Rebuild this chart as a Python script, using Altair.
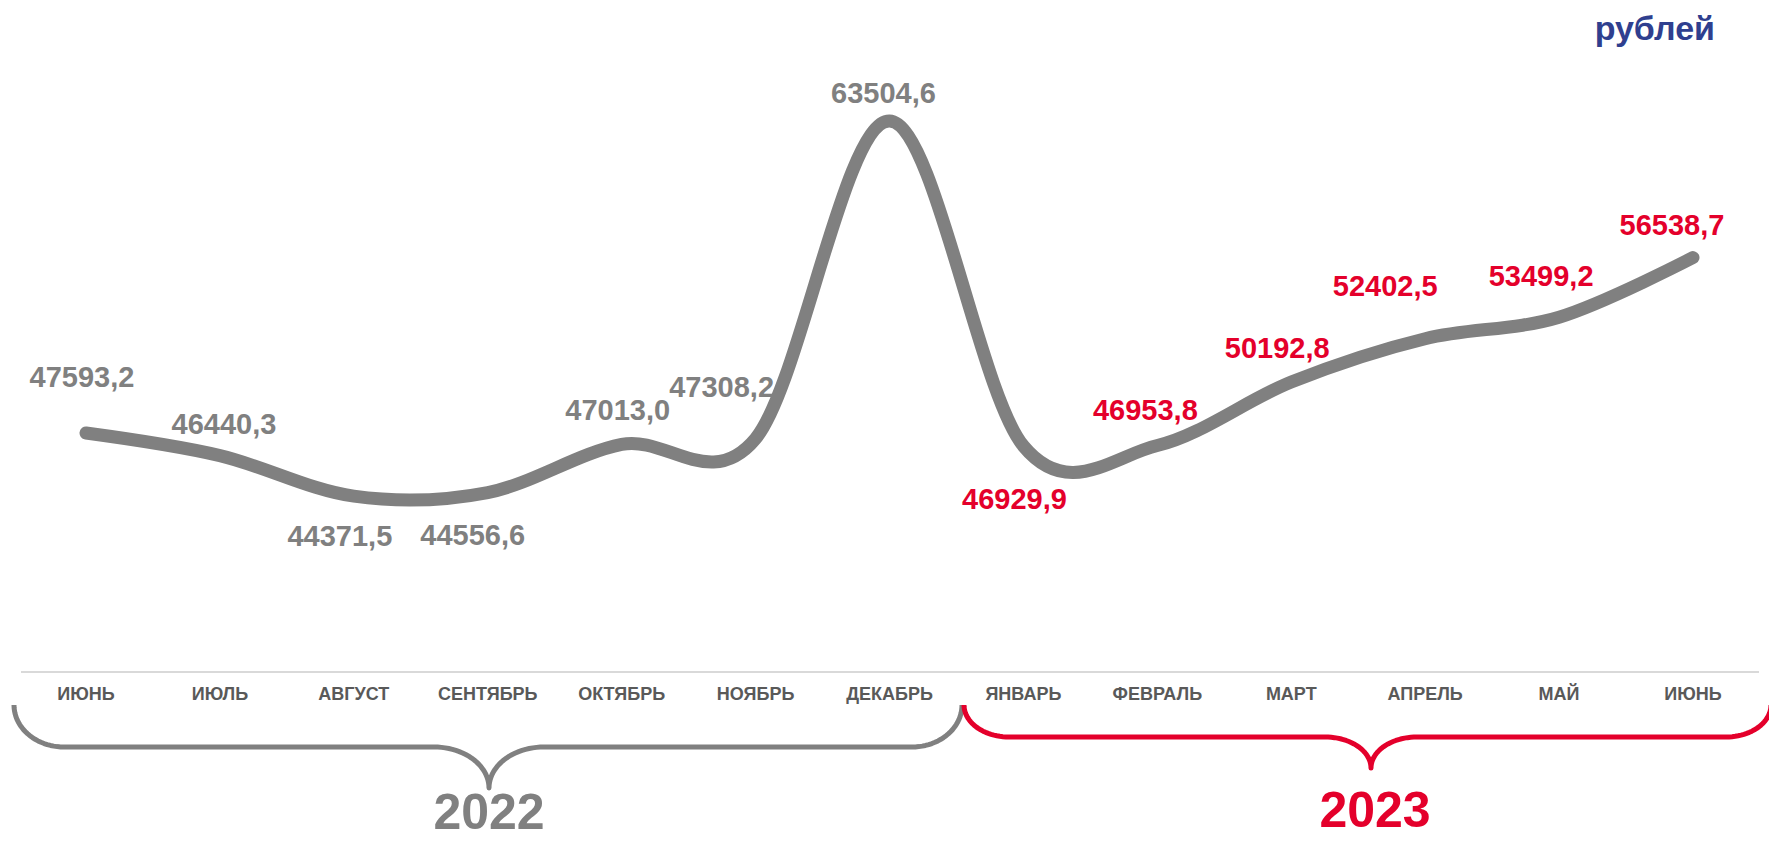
import altair as alt
import pandas as pd
import numpy as np

# ---------------- data ----------------
months = ["ИЮНЬ", "ИЮЛЬ", "АВГУСТ", "СЕНТЯБРЬ", "ОКТЯБРЬ", "НОЯБРЬ", "ДЕКАБРЬ",
          "ЯНВАРЬ", "ФЕВРАЛЬ", "МАРТ", "АПРЕЛЬ", "МАЙ", "ИЮНЬ"]
years = [2022] * 7 + [2023] * 6
values = [47593.2, 46440.3, 44371.5, 44556.6, 47013.0, 47308.2, 63504.6,
          46929.9, 46953.8, 50192.8, 52402.5, 53499.2, 56538.7]
year_labels = ["2022", "2023"]
unit_label = "рублей"

# ---------------- styling ----------------
W, H = 1761, 832
FONT = "Liberation Sans"
GRAY = "#808080"
RED = "#E4002B"
BLUE = "#2F3F8F"
AXIS_TEXT = "#595959"

# label offsets (px) relative to each point
label_offsets = [(-4, -55), (4, -31), (-14, 41), (-15, 43), (-4, -33), (-34, -51),
                 (-6, -27), (-9, 54), (-12, -35), (-14, -33), (-40, -52), (-18, -40),
                 (-21, -32)]

df = pd.DataFrame({
    "idx": list(range(len(months))),
    "month": months,
    "year": years,
    "value": values,
    "label": [f"{v:.1f}".replace(".", ",") for v in values],
})

x_scale = alt.Scale(domain=[0, 12], range=[78, 1685])
y_scale = alt.Scale(domain=[47593.2, 63504.6], range=[425, 113], zero=False, nice=False)
px_x = alt.Scale(domain=[0, W], range=[0, W])
px_y = alt.Scale(domain=[0, H], range=[0, H])

base = alt.Chart(df)

line = base.mark_line(interpolate="cardinal", strokeWidth=13, strokeCap="round",
                      strokeJoin="round", color=GRAY).encode(
    x=alt.X("idx:Q", scale=x_scale, axis=None),
    y=alt.Y("value:Q", scale=y_scale, axis=None),
)

label_layers = []
for i, (dx, dy) in enumerate(label_offsets):
    label_layers.append(
        base.transform_filter(alt.datum.idx == i).mark_text(
            dx=dx, dy=dy, font=FONT, fontSize=29, fontWeight="bold",
            align="center", baseline="middle",
            color=GRAY if years[i] == 2022 else RED,
        ).encode(
            x=alt.X("idx:Q", scale=x_scale, axis=None),
            y=alt.Y("value:Q", scale=y_scale, axis=None),
            text="label:N",
        )
    )

month_text = base.mark_text(font=FONT, fontSize=18, fontWeight="bold", color=AXIS_TEXT,
                            align="center", baseline="middle").encode(
    x=alt.X("idx:Q", scale=x_scale, axis=None),
    y=alt.value(687),
    text="month:N",
)

axis_line = alt.Chart(pd.DataFrame({"a": [0]})).mark_rule(color="#D9D9D9", strokeWidth=2).encode(
    x=alt.value(13), x2=alt.value(1751), y=alt.value(664)
)


def brace(x0, x1, xt, ytop, ymid, ytip, rx, rx2, n=24):
    t = np.linspace(0, np.pi / 2, n)
    ry = ymid - ytop
    ry2 = ytip - ymid
    xs, ys = [], []
    xs += list(x0 + rx * (1 - np.cos(t))); ys += list(ytop + ry * np.sin(t))
    xs += list(xt - rx2 + rx2 * np.sin(t)); ys += list(ymid + ry2 * (1 - np.cos(t)))
    xs += list(xt + rx2 * (1 - np.cos(t))); ys += list(ytip - ry2 * np.sin(t))
    xs += list(x1 - rx + rx * np.sin(t)); ys += list(ymid - ry * (1 - np.cos(t)))
    return pd.DataFrame({"px": xs, "py": ys, "o": range(len(xs))})


def brace_layer(d, color):
    return alt.Chart(d).mark_line(color=color, strokeWidth=5, strokeJoin="round").encode(
        x=alt.X("px:Q", scale=px_x, axis=None),
        y=alt.Y("py:Q", scale=px_y, axis=None),
        order="o:Q",
    )


brace_gray = brace_layer(brace(6, 954, 481, 697, 739, 780, 50, 55), GRAY)
brace_red = brace_layer(brace(956, 1763, 1363, 697, 729, 760, 45, 46), RED)

one = pd.DataFrame({"a": [0]})
year22 = alt.Chart(one).mark_text(text=year_labels[0], font=FONT, fontSize=50, fontWeight="bold",
                                  color=GRAY, align="center", baseline="middle").encode(
    x=alt.value(481), y=alt.value(806))
year23 = alt.Chart(one).mark_text(text=year_labels[1], font=FONT, fontSize=50, fontWeight="bold",
                                  color=RED, align="center", baseline="middle").encode(
    x=alt.value(1367), y=alt.value(804))
unit = alt.Chart(one).mark_text(text=unit_label, font=FONT, fontSize=34, fontWeight="bold",
                                color=BLUE, align="right", baseline="alphabetic").encode(
    x=alt.value(1707), y=alt.value(32))

chart = alt.layer(
    axis_line, brace_gray, brace_red, line, *label_layers, month_text, year22, year23, unit
).resolve_scale(x="independent", y="independent").properties(
    width=W, height=H, padding=0, autosize=alt.AutoSizeParams(type="none"),
    background="white",
).configure_view(stroke=None)

chart.save("out.html", embed_options={"renderer": "svg", "actions": False})
